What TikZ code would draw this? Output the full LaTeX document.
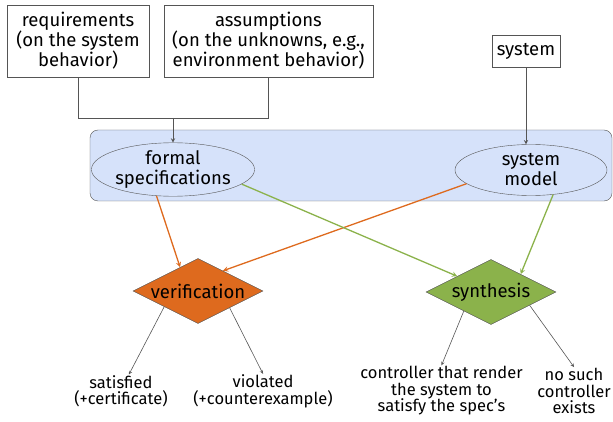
\documentclass[tikz,border=0pt]{standalone}
\usepackage{fontspec}
\setmainfont{Fira Sans}
\usetikzlibrary{shapes.geometric}
\definecolor{panelblue}{RGB}{214,226,250}
\definecolor{verorange}{RGB}{222,106,30}
\definecolor{syngreen}{RGB}{139,178,75}
\definecolor{framegray}{RGB}{85,85,85}
\begin{document}
\begin{tikzpicture}
         [x=1pt, y=-1pt,
          box/.style={rectangle,draw=framegray,fill=white,align=center,inner sep=0pt,
                      font=\fontsize{18.5}{20}\selectfont},
          spec/.style={ellipse,draw=framegray,fill=panelblue,align=center,inner sep=0pt,
                       minimum width=152pt,minimum height=51pt,font=\fontsize{18.5}{20}\selectfont},
          check/.style={diamond,aspect=2.2,draw=framegray,inner sep=0pt,
                        minimum width=130pt,minimum height=65pt,font=\fontsize{18.5}{20}\selectfont},
          outcome/.style={align=center,inner sep=1pt,font=\fontsize{16.5}{16.5}\selectfont},
          feed/.style={draw=framegray,line width=0.9pt},
          vline/.style={draw=verorange,line width=1.3pt,-stealth},
          sline/.style={draw=syngreen,line width=1.3pt,-stealth},
          result/.style={draw=framegray,line width=0.6pt,-stealth}]
         \useasboundingbox (0,0) rectangle (613,422);

         % inputs
         \node[box, minimum width=142pt, minimum height=72pt] (req) at (78,41)
              {requirements\\(on the system\\behavior)};
         \node[box, minimum width=209pt, minimum height=72pt] (asm) at (268.5,41)
              {assumptions\\(on the unknowns, e.g.,\\environment behavior)};
         \node[box, minimum width=68pt, minimum height=32pt] (sys) at (526,51) {system};

         % models
         \node[rectangle,rounded corners=8pt,draw=framegray,fill=panelblue,
               minimum width=522pt,minimum height=71pt] (panel) at (351,165.5) {};
         \node[spec] (fspec) at (173,169.5) {formal\\specifications};
         \node[spec] (model) at (531,170) {system\\model};

         % problems
         \node[check, fill=verorange] (verif) at (198,291) {verification};
         \node[check, fill=syngreen] (synth) at (491,292) {synthesis};

         % answers
         \node[outcome] (sat) at (121,391.5) {satisfied\\(+certificate)};
         \node[outcome] (viol) at (263,391.5) {violated\\(+counterexample)};
         \node[outcome] (ctrl) at (441.5,391) {controller that render\\the system to\\satisfy the spec's};
         \node[outcome] (nosuch) at (574,391) {no such\\controller\\exists};

         \coordinate (join) at (173,118);
         \draw[feed] (req.south) |- (join);
         \draw[feed] (asm.south) |- (join);
         \draw[feed,-stealth] (join) -- (fspec.north);
         \draw[feed,-stealth] (sys.south) -- (sys.south |- model.north);

         \draw[vline] (fspec.238) -- (verif.127);
         \draw[vline] (model.192) -- (verif.39);
         \draw[sline] (fspec.348) -- (synth.155);
         \draw[sline] (model.312) -- (synth.31);

         \draw[result] (verif.205) -- (sat.65);
         \draw[result] (verif.332) -- (viol.north);
         \draw[result] (synth.215) -- (ctrl.north);
         \draw[result] (synth.341) -- (nosuch.north);
      \end{tikzpicture}
\end{document}
